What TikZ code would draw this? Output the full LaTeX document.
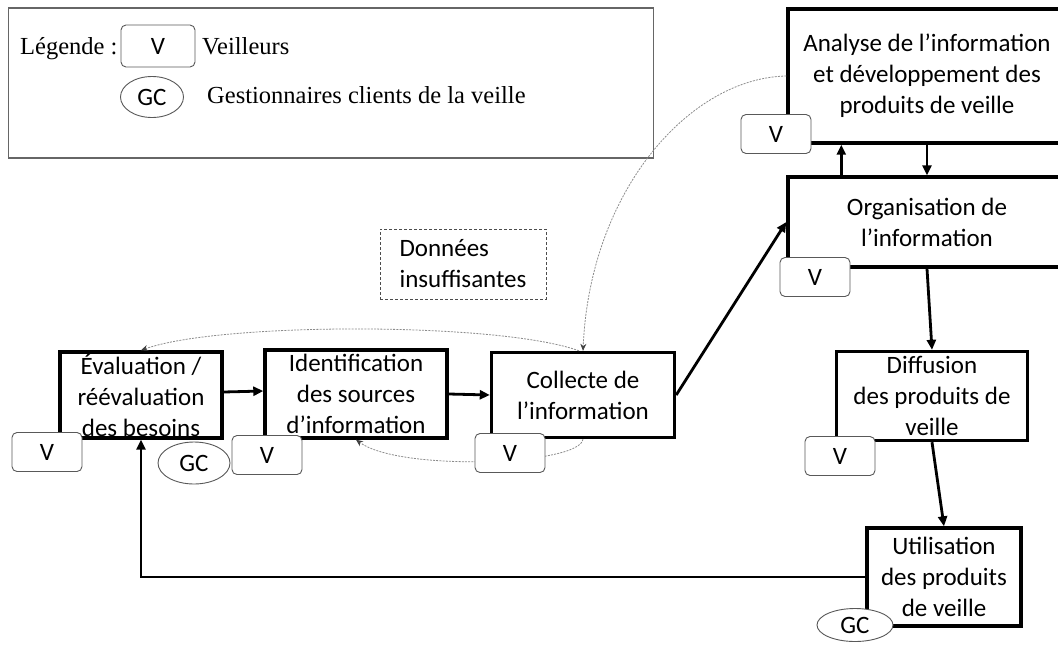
\documentclass[tikz,border=0pt]{standalone}
\usepackage{fontspec}
\setmainfont{Carlito}
\newfontfamily\legserif{Liberation Serif}
\usetikzlibrary{arrows.meta,calc,shapes.geometric}
\begin{document}
\begin{tikzpicture}[x=1pt,y=-1pt,
  every node/.style={font=\fontsize{25}{31}\selectfont},
  proc/.style={draw=black, line width=3.4pt, align=center, inner sep=0pt},
  vbox/.style={draw=black!65, line width=0.9pt, rounded corners=5pt, fill=white,
               minimum width=70pt, minimum height=39pt, inner sep=0pt},
  gcnode/.style={draw=black!65, ellipse, line width=0.9pt, fill=white, inner sep=0pt},
  flow/.style={line width=2.8pt, -{Triangle[length=10pt,width=9pt]}},
  dotloop/.style={draw=black!45, line width=0.8pt, dash pattern=on 2pt off 1.2pt,
                  -{Stealth[length=7pt,width=6pt,black!75]}},
  legtext/.style={font=\legserif\fontsize{24.5}{29}\selectfont, anchor=base west, inner sep=0pt}
]
\useasboundingbox (0,0) rectangle (1058,651);
\fill[white] (0,0) rectangle (1058,651);
\clip (0,0) rectangle (1058,651);

% legend
\node[draw=black!60, line width=1.3pt, minimum width=645pt, minimum height=150pt, inner sep=0pt] (legend) at (331,83) {};
\node[legtext] (legtitle) at (20,54) {Légende :};
\node[vbox, minimum width=74pt, minimum height=42pt] (legv) at (158,46) {V};
\node[legtext] (legvtext) at (202,54) {Veilleurs};
\node[gcnode, minimum width=63pt, minimum height=41pt] (leggc) at (152,97) {GC};
\node[legtext] (leggctext) at (207,103) {Gestionnaires clients de la veille};

% main process boxes
\node[proc, minimum width=278pt, minimum height=134pt] (ana) at (927,76)
  {Analyse de l’information\\et développement des\\produits de veille};
\node[proc, minimum width=278pt, minimum height=90pt] (org) at (927,222)
  {Organisation de\\l’information};
\node[proc, minimum width=162pt, minimum height=86pt] (eval) at (141,395)
  {Évaluation /\\réévaluation\\des besoins};
\node[proc, minimum width=182pt, minimum height=88pt] (ident) at (356,394)
  {Identification\\des sources\\d’information};
\node[proc, minimum width=183pt, minimum height=85pt] (coll) at (583,395)
  {Collecte de\\l’information};
\node[proc, minimum width=191pt, minimum height=89pt] (diff) at (932,396)
  {Diffusion\\des produits de\\veille};
\node[proc, minimum width=154pt, minimum height=98pt] (util) at (944,577)
  {Utilisation\\des produits\\de veille};

% dashed note
\node[draw=black!70, line width=0.9pt, dash pattern=on 3pt off 2pt, align=left,
      minimum width=166pt, minimum height=70pt, inner sep=0pt] (note) at (463,264)
  {Données\\insuffisantes};

% dotted feedback curves
\draw[dotloop] (ana.west) .. controls (690,78) and (590,190) .. (coll.north);
\draw[dotloop] ([xshift=-4pt]coll.north) .. controls (500,322) and (220,322) .. (eval.north);
\draw[dotloop] (coll.south) .. controls (580,465) and (400,472) .. (ident.south);

% flow arrows
\draw[flow] ([yshift=3pt]eval.east) -- ([yshift=3pt]ident.west);
\draw[flow] (ident.east) -- (coll.west);
\draw[flow] (coll.east) -- (org.west);
\draw[flow] ([xshift=55pt]org.north west) -- ([xshift=55pt]ana.south west);
\draw[flow] (ana.south) -- (org.north);
\draw[flow] (org.south) -- (diff.north);
\draw[flow] (diff.south) -- (util.north);
\draw[flow] (util.west) -| (eval.south);

% actors
\node[vbox] (v1) at (47,452) {V};
\node[gcnode, minimum width=72pt, minimum height=42pt] (gc1) at (194,463) {GC};
\node[vbox] (v2) at (267,455) {V};
\node[vbox] (v3) at (510,453) {V};
\node[vbox] (v4) at (776,134) {V};
\node[vbox] (v5) at (815,277) {V};
\node[vbox] (v6) at (840,456) {V};
\node[gcnode, minimum width=76pt, minimum height=33pt] (gc2) at (855,625) {GC};
\end{tikzpicture}
\end{document}
